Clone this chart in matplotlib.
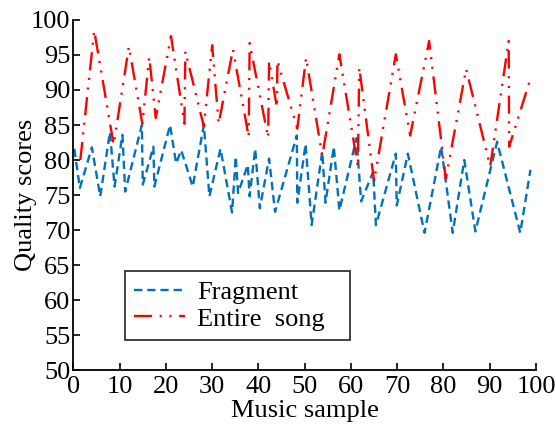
import numpy as np
import matplotlib
matplotlib.use("Agg")
from matplotlib import pyplot as plt

# vertices (x = music sample, y = quality score)
frag_x = [0.2, 1.4, 4.0, 5.8, 7.9, 8.9, 10.6, 11.2, 14.8, 15.0, 17.3, 17.5, 20.9, 22.2, 23.3,
          25.8, 28.2, 29.4, 31.8, 34.3, 35.1, 35.6, 37.7, 38.1, 39.3, 40.3, 42.3, 43.6, 48.3,
          48.4, 50.2, 51.5, 53.8, 54.5, 56.3, 57.5, 61.2, 62.2, 64.8, 65.4, 69.7, 69.9, 72.3,
          75.9, 79.5, 82.0, 84.5, 86.9, 91.6, 96.6, 98.8]
frag_y = [81.6, 76.0, 81.8, 74.8, 84.0, 76.2, 83.6, 75.5, 85.0, 76.5, 81.9, 76.2, 85.0, 79.5, 81.4,
          76.2, 85.0, 74.8, 81.6, 72.5, 80.5, 75.3, 79.3, 74.8, 81.6, 73.1, 80.2, 72.6, 83.5,
          73.9, 82.3, 70.7, 81.2, 73.9, 81.9, 72.8, 83.1, 74.1, 78.3, 70.7, 80.9, 73.5, 80.9,
          69.6, 81.9, 69.6, 80.0, 69.8, 82.6, 69.6, 78.6]

song_x = [1.5, 4.5, 8.7, 12.0, 14.9, 16.4, 17.8, 21.1, 24.0, 24.2, 28.2, 30.0, 31.4, 34.5,
          37.9, 38.1, 42.1, 42.3, 44.0, 44.1, 48.4, 50.3, 53.8, 57.5, 61.5, 61.8, 65.0, 69.7,
          72.8, 76.9, 80.5, 84.9, 90.1, 94.1, 94.2, 98.6]
song_y = [80.0, 98.5, 82.2, 96.2, 85.2, 94.7, 86.0, 97.7, 85.2, 95.5, 84.8, 96.4, 85.2, 95.8,
          83.3, 96.7, 83.2, 94.1, 87.5, 94.2, 84.5, 94.6, 80.6, 95.1, 79.0, 93.2, 77.0, 95.1,
          83.5, 97.0, 77.3, 93.0, 79.1, 97.0, 81.9, 91.2]

plt.rcParams["font.family"] = ["Liberation Serif", "DejaVu Serif"]
plt.rcParams["lines.scale_dashes"] = False

fig = plt.figure(figsize=(5.56, 4.30), dpi=100)
ax = fig.add_axes([0.132, 0.1395, 0.832, 0.814])

ax.plot(frag_x, frag_y, color="#0072BD", lw=1.7, linestyle=(0, (6, 3.5)), label="Fragment")
ax.plot(song_x, song_y, color="#FF0000", lw=1.7,
        linestyle=(0, (13, 5.5, 1.5, 5.5, 1.5, 5.5)), label="Entire  song")

ax.set_xlim(0, 100)
ax.set_ylim(50, 100)
ax.set_xticks(np.arange(0, 101, 10))
ax.set_yticks(np.arange(50, 101, 5))
for s in ["top", "right"]:
    ax.spines[s].set_visible(False)
for s in ["left", "bottom"]:
    ax.spines[s].set_linewidth(1.3)
ax.tick_params(direction="in", length=5, width=1.2, labelsize=19)
ax.tick_params(axis="y", pad=2)
ax.tick_params(axis="x", pad=4)
ax.set_xlabel("Music sample", fontsize=19, labelpad=2)
ax.set_ylabel("Quality scores", fontsize=19, labelpad=-4)

leg = ax.legend(loc="lower left", bbox_to_anchor=(0.111, 0.086, 0.487, 0.197), mode="expand",
                fontsize=19, frameon=True, fancybox=False, handlelength=1.95,
                borderpad=0.35, labelspacing=0.12, handletextpad=0.45, borderaxespad=0)
leg.get_frame().set_edgecolor("black")
leg.get_frame().set_linewidth(1.3)

fig.savefig("out.png", dpi=100)
